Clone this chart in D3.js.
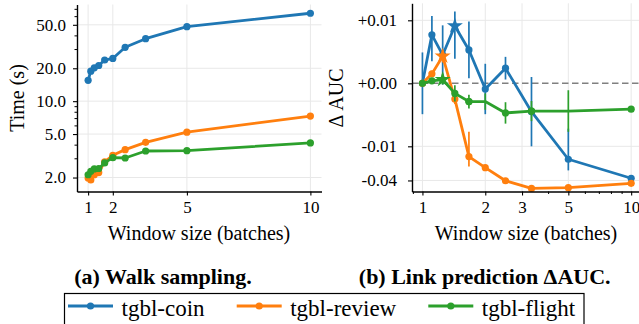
<!DOCTYPE html>
<html>
<head>
<meta charset="utf-8">
<script src="https://cdn.jsdelivr.net/npm/d3@7"></script>
<style>
  body { margin: 0; background: #fff; }
  text { font-family: "Liberation Serif", "Times New Roman", serif; fill: #000; }
</style>
</head>
<body>
<svg id="chart" width="639" height="324"></svg>
<script>
// window sizes (batches), shared by both panels
const windowSizes = [1, 1.11, 1.25, 1.43, 1.67, 2, 2.5, 3.33, 5, 10];
const datasetNames = ["tgbl-coin", "tgbl-review", "tgbl-flight"];
const colors = ["#1f77b4", "#ff7f0e", "#2ca02c"];

// (a) walk sampling time (s)
const timeCoin = [15.5, 18.8, 20.2, 21.2, 23.8, 24.6, 31.1, 37.3, 48.1, 63.8];
const timeReview = [1.98, 1.9, 2.12, 2.22, 2.78, 3.2, 3.6, 4.2, 5.2, 7.3];
const timeFlight = [2.12, 2.28, 2.4, 2.42, 2.72, 3.04, 3.02, 3.5, 3.52, 4.15];

// (b) link prediction delta AUC, with error bars
const aucCoin = [0, 0.0077, 0.0045, 0.0091, 0.0053, -0.0009, 0.0024, -0.0045, -0.0169, -0.0366];
const aucReview = [0, 0.0015, 0.0043, -0.0025, -0.0152, -0.0238, -0.0405, -0.0552, -0.0536, -0.045];
const aucFlight = [0, 0.0004, 0.0006, -0.0016, -0.0029, -0.0029, -0.0047, -0.0044, -0.0044, -0.0041];
const errCoin = [0.0049, 0.0042, 0.0047, 0.0052, 0.0045, 0.004, 0.0018, 0.0055, 0.0097, 0.0008];
const errReview = [0, 0.0005, 0.001, 0.0008, 0.0075, 0.0015, 0.001, 0.0008, 0.0008, 0.0008];
const errFlight = [0.0003, 0.0004, 0.0008, 0.0013, 0.0011, 0.0013, 0.0017, 0.0016, 0.0033, 0.0004];

// tick values
const timeTicks = [2, 5, 10, 20, 50];
const timeMinorTicks = [3, 4, 6, 7, 8, 9, 30, 40, 60, 70];
const leftXTicks = [1, 2, 5, 10];
const rightXTicks = [1, 2, 3, 5, 10];
const rightXMinorTicks = [0.9, 4, 6, 7, 8, 9];
const aucTicks = [0.01, 0, -0.01, -0.04];

const timeSeries = [timeCoin, timeReview, timeFlight];
const aucSeries = [aucCoin, aucReview, aucFlight];
const errSeries = [errCoin, errReview, errFlight];

const svg = d3.select("#chart");
svg.append("rect").attr("width", 639).attr("height", 324).attr("fill", "#fff");

const gridColor = "#e8e8e8";

function styleAxis(g) {
  g.selectAll("text").style("font-family", '"Liberation Serif", serif').style("font-size", "17px").attr("fill", "#000");
  g.selectAll("line").attr("stroke", "#000").attr("stroke-width", 1.1);
  g.select(".domain").attr("stroke", "#000").attr("stroke-width", 1.4);
}

// ---------- panel (a) ----------
const xL = d3.scaleLinear().domain([0.55, 10.45]).range([77, 321.5]);
const yL = d3.scaleLog().domain([1.49, 76.7]).range([191.5, 4.5]);

const gridL = svg.append("g");
gridL.selectAll(".hy").data(timeTicks).enter().append("line")
  .attr("x1", 77).attr("x2", 321.5)
  .attr("y1", d => yL(d)).attr("y2", d => yL(d))
  .attr("stroke", gridColor).attr("stroke-width", 1);
gridL.selectAll(".vx").data(leftXTicks).enter().append("line")
  .attr("x1", d => xL(d)).attr("x2", d => xL(d))
  .attr("y1", 4.5).attr("y2", 191.5)
  .attr("stroke", gridColor).attr("stroke-width", 1);

const lineL = d3.line().x((d, i) => xL(windowSizes[i])).y(d => yL(d));
timeSeries.forEach((vals, s) => {
  const g = svg.append("g");
  g.append("path").datum(vals).attr("d", lineL)
    .attr("fill", "none").attr("stroke", colors[s]).attr("stroke-width", 2.8)
    .attr("stroke-linejoin", "round");
  g.selectAll("circle").data(vals).enter().append("circle")
    .attr("cx", (d, i) => xL(windowSizes[i])).attr("cy", d => yL(d))
    .attr("r", 3.6).attr("fill", colors[s]);
});

svg.append("g").attr("transform", "translate(77,0)")
  .call(d3.axisLeft(yL).tickValues(timeMinorTicks).tickSize(2.5).tickSizeOuter(0).tickFormat(""))
  .call(g => { g.select(".domain").remove(); g.selectAll("line").attr("stroke", "#000"); });
svg.append("g").attr("transform", "translate(77,0)")
  .call(d3.axisLeft(yL).tickValues(timeTicks).tickSize(4).tickPadding(7).tickSizeOuter(0).tickFormat(d3.format(".1f")))
  .call(styleAxis);
svg.append("g").attr("transform", "translate(0,191.5)")
  .call(d3.axisBottom(xL).tickValues(leftXTicks).tickSize(4).tickPadding(5.5).tickSizeOuter(0).tickFormat(d3.format("d")))
  .call(styleAxis);

svg.append("text").attr("transform", "translate(24,98) rotate(-90)")
  .attr("text-anchor", "middle").style("font-size", "20px").text("Time (s)");
svg.append("text").attr("x", 199).attr("y", 240)
  .attr("text-anchor", "middle").style("font-size", "20px").text("Window size (batches)");
svg.append("text").attr("x", 163).attr("y", 283.5)
  .attr("text-anchor", "middle").style("font-size", "22px").style("font-weight", "bold")
  .text("(a) Walk sampling.");

// ---------- panel (b) ----------
// matplotlib-style symlog (linthresh 0.01, linscale 1)
function symT(v) {
  const lt = 0.01, k = 1 / (1 - 1 / 10);
  const a = Math.abs(v);
  return a <= lt ? v / lt * k : Math.sign(v) * (k + Math.log10(a / lt));
}
const xR = d3.scaleLog().domain([Math.pow(10, -0.05), Math.pow(10, 1.05)]).range([412, 641.6]);
const yRt = d3.scaleLinear().domain([-1.908, 1.411]).range([191.5, 3.3]);
const yR = v => yRt(symT(v));

const gridR = svg.append("g");
gridR.selectAll(".hy").data(aucTicks.filter(d => d !== 0)).enter().append("line")
  .attr("x1", 412).attr("x2", 639)
  .attr("y1", d => yR(d)).attr("y2", d => yR(d))
  .attr("stroke", gridColor).attr("stroke-width", 1);
gridR.selectAll(".vx").data(rightXTicks).enter().append("line")
  .attr("x1", d => xR(d)).attr("x2", d => xR(d))
  .attr("y1", 3.3).attr("y2", 191.5)
  .attr("stroke", gridColor).attr("stroke-width", 1);

// zero reference line
svg.append("line").attr("x1", 412).attr("x2", 639)
  .attr("y1", yR(0)).attr("y2", yR(0))
  .attr("stroke", "#808080").attr("stroke-width", 1.4).attr("stroke-dasharray", "6.5,3.5");

const lineR = d3.line().x((d, i) => xR(windowSizes[i])).y(d => yR(d));
aucSeries.forEach((vals, s) => {
  const errs = errSeries[s];
  const best = d3.maxIndex(vals);
  const g = svg.append("g");
  g.selectAll(".err").data(vals).enter().append("line")
    .attr("x1", (d, i) => xR(windowSizes[i])).attr("x2", (d, i) => xR(windowSizes[i]))
    .attr("y1", (d, i) => yR(d - errs[i])).attr("y2", (d, i) => yR(d + errs[i]))
    .attr("stroke", colors[s]).attr("stroke-width", 1.7);
  g.append("path").datum(vals).attr("d", lineR)
    .attr("fill", "none").attr("stroke", colors[s]).attr("stroke-width", 2.8)
    .attr("stroke-linejoin", "round");
  g.selectAll("circle").data(vals.filter((d, i) => i !== best)).enter().append("circle")
    .attr("cx", d => xR(windowSizes[vals.indexOf(d)])).attr("cy", d => yR(d))
    .attr("r", 3.6).attr("fill", colors[s]);
  g.append("path").attr("d", d3.symbol(d3.symbolStar).size(80)())
    .attr("transform", `translate(${xR(windowSizes[best])},${yR(vals[best])})`)
    .attr("fill", colors[s]);
});

svg.append("g").attr("transform", "translate(0,191.5)")
  .call(d3.axisBottom(xR).tickValues(rightXMinorTicks).tickSize(2.5).tickSizeOuter(0).tickFormat(""))
  .call(g => { g.select(".domain").remove(); g.selectAll("line").attr("stroke", "#000"); });
svg.append("g").attr("transform", "translate(0,191.5)")
  .call(d3.axisBottom(xR).tickValues(rightXTicks).tickSize(4).tickPadding(5.5).tickSizeOuter(0).tickFormat(d3.format("d")))
  .call(styleAxis);
svg.append("g").attr("transform", "translate(412,0)")
  .call(d3.axisLeft(yRt).tickValues(aucTicks.map(symT)).tickSize(4).tickPadding(11).tickSizeOuter(0)
    .tickFormat((d, i) => (aucTicks[i] >= 0 ? "+" : "") + aucTicks[i].toFixed(2)))
  .call(styleAxis);

svg.append("text").attr("transform", "translate(343,98) rotate(-90)")
  .attr("text-anchor", "middle").style("font-size", "20px").text("\u0394 AUC");
svg.append("text").attr("x", 526).attr("y", 240)
  .attr("text-anchor", "middle").style("font-size", "20px").text("Window size (batches)");
svg.append("text").attr("x", 484.7).attr("y", 283.5)
  .attr("text-anchor", "middle").style("font-size", "22px").style("font-weight", "bold")
  .text("(b) Link prediction \u0394AUC.");

// ---------- legend ----------
const legend = svg.append("g");
legend.append("rect").attr("x", 64.5).attr("y", 293.5).attr("width", 519.5).attr("height", 40)
  .attr("fill", "#fff").attr("stroke", "#000").attr("stroke-width", 1.2);
const legendStarts = [68, 236.7, 428.3];
datasetNames.forEach((name, s) => {
  const x0 = legendStarts[s];
  legend.append("line").attr("x1", x0).attr("x2", x0 + 45).attr("y1", 306).attr("y2", 306)
    .attr("stroke", colors[s]).attr("stroke-width", 2.8);
  legend.append("circle").attr("cx", x0 + 22.5).attr("cy", 306).attr("r", 3.6).attr("fill", colors[s]);
  legend.append("text").attr("x", x0 + 53.5).attr("y", 315.5).style("font-size", "23px").text(name);
});
</script>
</body>
</html>
